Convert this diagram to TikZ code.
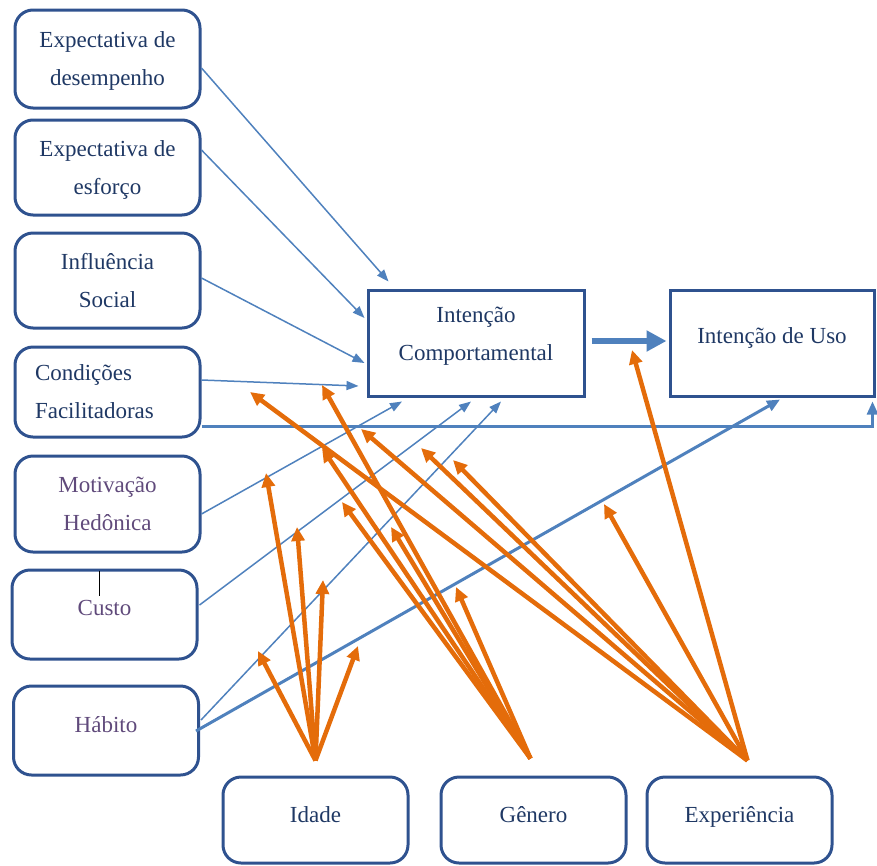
\documentclass[tikz,border=0pt]{standalone}
\usepackage{fontspec}
\setmainfont{Liberation Serif}
\usetikzlibrary{arrows.meta,calc}
\definecolor{boxc}{RGB}{47,82,143}
\definecolor{txtblue}{RGB}{31,56,100}
\definecolor{txtpurple}{RGB}{96,74,123}
\definecolor{lineblue}{RGB}{79,129,189}
\definecolor{orangec}{RGB}{228,108,10}
\begin{document}
\begin{tikzpicture}[x=1pt,y=-1pt,
  rbox/.style={draw=boxc, line width=3pt, rounded corners=18pt, minimum width=185pt,
    minimum height=95pt, inner sep=0pt, align=center,
    font=\fontsize{23}{38}\selectfont, text=txtblue},
  sbox/.style={draw=boxc, line width=3pt, minimum height=106pt, inner sep=0pt,
    align=center, font=\fontsize{23}{38}\selectfont, text=txtblue},
  txt/.style={inner sep=0pt, align=center, font=\fontsize{23}{38}\selectfont, text=txtblue},
  thin/.style={draw=lineblue, line width=1.5pt, -{Triangle[length=12pt,width=9pt]}},
  thick/.style={draw=lineblue, line width=3pt, -{Triangle[length=13pt,width=11pt]}},
  oarr/.style={draw=orangec, line width=4.5pt, -{Triangle[length=14pt,width=13pt]}},
]
\useasboundingbox (0,0) rectangle (877,865);

% left boxes
\node[rbox, minimum height=98pt] (b1) at (107.5,59) {\raisebox{2pt}{\begin{tabular}{@{}c@{}}Expectativa de\\desempenho\end{tabular}}};
\node[rbox] (b2) at (107.5,167.5) {\raisebox{2pt}{\begin{tabular}{@{}c@{}}Expectativa de\\esforço\end{tabular}}};
\node[rbox] (b3) at (107.5,280.5) {Influência\\Social};
\node[rbox, minimum height=90pt, text width=145pt, align=left] (b4) at (107.5,392) {Condições\\Facilitadoras};
\node[rbox, minimum height=96pt, text=txtpurple] (b5) at (107.5,504) {Motivação\\Hedônica};
\node[rbox, minimum height=89pt, text=txtpurple] (b6) at (104.5,614.5) {\raisebox{14pt}{Custo}};
\node[rbox, minimum height=89pt, text=txtpurple] (b7) at (106,730.5) {\raisebox{13pt}{Hábito}};

% bottom boxes
\node[rbox, minimum height=86pt] (idade) at (315.5,820) {\raisebox{11pt}{Idade}};
\node[rbox, minimum height=86pt] (genero) at (533.5,820) {\raisebox{11pt}{Gênero}};
\node[rbox, minimum height=86pt] (exper) at (739.5,820) {\raisebox{11pt}{Experiência}};

% central boxes
\node[sbox, minimum width=216pt] (ic) at (476,343) {};
\node[txt] (ictext) at ([yshift=7pt]ic.center) {Intenção\\Comportamental};
\node[sbox, minimum width=204pt] (iu) at (772,343) {\raisebox{15pt}{Intenção de Uso}};

% cursor mark
\draw[black, line width=1pt] ([xshift=-5.5pt,yshift=-2pt]b6.north) -- ([xshift=-5.5pt,yshift=-27pt]b6.north);

% thick arrow IC -> IU
\draw[draw=lineblue, line width=6pt, -{Triangle[length=20pt,width=20pt]}]
  ([xshift=6pt,yshift=2pt]ic.east) -- ([xshift=-2pt,yshift=2pt]iu.west);

% blue arrows
\draw[thin] ([yshift=-9pt]b1.east) -- ([xshift=22pt,yshift=7pt]ic.north west);
\draw[thin] ([yshift=17.5pt]b2.east) -- ([xshift=-2pt,yshift=25pt]ic.west);
\draw[thin] ([yshift=2.5pt]b3.east) -- ([xshift=-2pt,yshift=-20pt]ic.west);
\draw[thin] ([yshift=12pt]b4.east) -- ([xshift=-8pt,yshift=-43pt]ic.west);
\coordinate (hcorner) at ([xshift=-3pt]iu.south east |- b4.south east);
\draw[thick, line width=2.5pt] ([yshift=12pt]b4.south east) -- ([yshift=12pt]hcorner) -- ([xshift=-3pt,yshift=-4pt]iu.south east);
\draw[thin] ([yshift=-10pt]b5.east) -- ([xshift=-74pt,yshift=-4pt]ic.south);
\draw[thin] ([xshift=1pt,yshift=9.5pt]b6.east) -- ([xshift=-5pt,yshift=-4pt]ic.south);
\draw[thin] ([xshift=1pt,yshift=10.5pt]b7.east) -- ([xshift=25pt,yshift=-4pt]ic.south);
\draw[thick] ([xshift=-4pt,yshift=-0.5pt]b7.east) -- ([xshift=8pt,yshift=-2pt]iu.south);

% origins of the orange arrows
\coordinate (oI) at ([yshift=15pt]idade.north);
\coordinate (oG) at ([xshift=-3pt,yshift=17pt]genero.north);
\coordinate (oE) at ([xshift=8pt,yshift=15pt]exper.north);

% tips
\coordinate (i1) at (266,473);
\coordinate (i2) at (297,527);
\coordinate (i3) at (323,580);
\coordinate (i4) at (258,651);
\coordinate (i5) at (358,646);
\coordinate (g1) at (322,385);
\coordinate (g2) at (322,448);
\coordinate (g3) at (342,502);
\coordinate (g4) at (391,527);
\coordinate (g5) at (456,587);
\coordinate (e1) at (250,392);
\coordinate (e2) at (361,429);
\coordinate (e3) at (421,448);
\coordinate (e4) at (453,460);
\coordinate (e5) at (632,350);
\coordinate (e6) at (604,504);

\foreach \t in {i1,i2,i3,i4,i5} \draw[oarr] (oI) -- (\t);
\foreach \t in {g1,g2,g3,g4,g5} \draw[oarr] (oG) -- (\t);
\foreach \t in {e1,e2,e3,e4,e5,e6} \draw[oarr] (oE) -- (\t);
\end{tikzpicture}
\end{document}
